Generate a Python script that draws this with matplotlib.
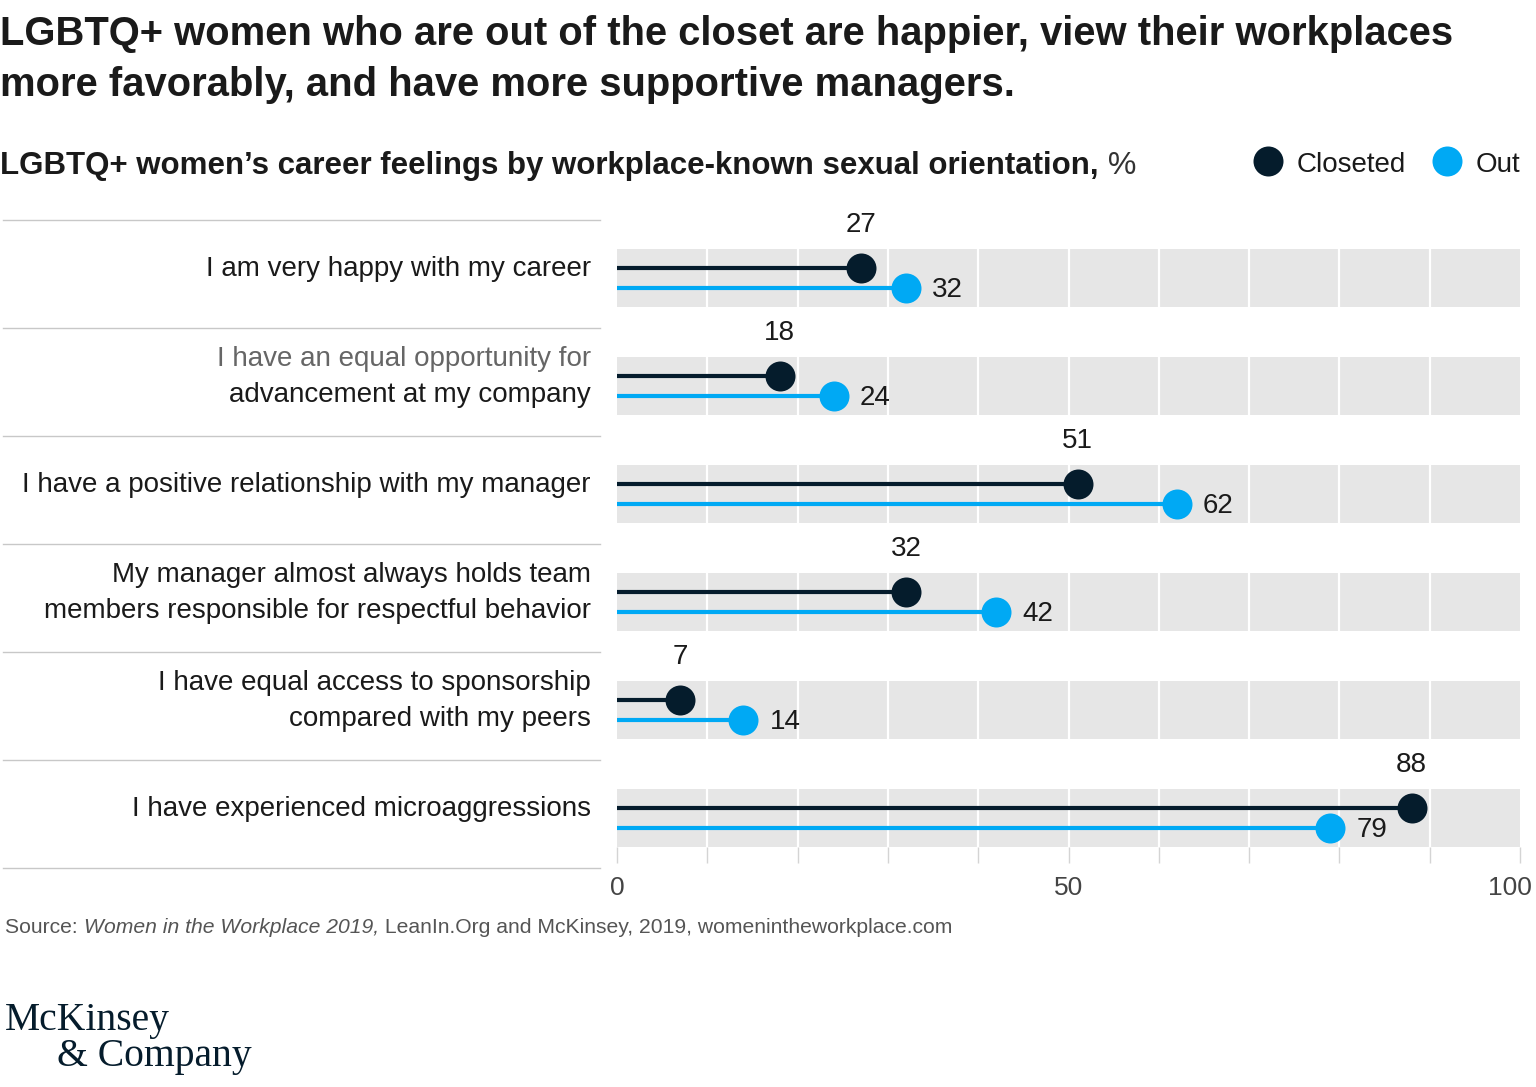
import numpy as np
import matplotlib.pyplot as plt
from matplotlib.transforms import blended_transform_factory, ScaledTranslation

plt.rcParams['font.family'] = ['Liberation Sans', 'DejaVu Sans']

# data
categories = [
    "I am very happy with my career",
    "I have an equal opportunity for\nadvancement at my company",
    "I have a positive relationship with my manager",
    "My manager almost always holds team\nmembers responsible for respectful behavior",
    "I have equal access to sponsorship\ncompared with my peers",
    "I have experienced microaggressions",
]
closeted = [27, 18, 51, 32, 7, 88]
out = [32, 24, 62, 42, 14, 79]
series_names = ["Closeted", "Out"]
x_ticks = list(range(0, 101, 10))
x_ticklabels = ["0", "", "", "", "", "50", "", "", "", "", "100"]

DARK = '#051c2c'
BLUE = '#00a9f4'
BAND = '#e6e6e6'
SEP = '#c8c8c8'
TXT = '#1a1a1a'

W, H = 1536, 1087


def fx(px):
    return px / W


def fy(py):
    return 1 - py / H


ROW = 108.0          # px per row
DY = 10 / ROW        # offset of each series line from band centre
HALF = 29 / ROW      # half band height
PT = 0.72            # px -> points at dpi 100

fig = plt.figure(figsize=(W / 100, H / 100), dpi=100)
ax = fig.add_axes([fx(617), fy(847), 903 / W, (847 - 190) / H])
ax.set_xlim(0, 100)
ax.set_ylim(len(categories) - 1 + HALF, (190 - 278) / ROW)
for s in ax.spines.values():
    s.set_visible(False)
ax.set_yticks([])
ax.set_xticks(x_ticks)
ax.set_xticklabels(x_ticklabels)
ax.tick_params(axis='x', length=16 * PT, width=1, color='#d4d4d4',
               pad=13 * PT, labelsize=19, labelcolor='#444444')
# last label sits a little left of its tick, as in the original
last = ax.get_xticklabels()[-1]
last.set_transform(last.get_transform() + ScaledTranslation(-10 / 100, 0, fig.dpi_scale_trans))

y = np.arange(len(categories))
for i in y:
    ax.axhspan(i - HALF, i + HALF, xmin=0, xmax=1, color=BAND, lw=0, zorder=0)
    ax.vlines(x_ticks[1:-1], i - HALF, i + HALF, color='white', lw=1.6, zorder=1)

ax.hlines(y - DY, 0, closeted, color=DARK, lw=3, zorder=2)
ax.hlines(y + DY, 0, out, color=BLUE, lw=3, zorder=2)
ax.plot(closeted, y - DY, 'o', ms=30 * PT, color=DARK, mec='none', zorder=3)
ax.plot(out, y + DY, 'o', ms=30 * PT, color=BLUE, mec='none', zorder=3)

for i in y:
    ax.annotate(str(closeted[i]), (closeted[i], i - DY), xytext=(0, 43 * PT),
                textcoords='offset points', ha='center', va='center',
                fontsize=20, color=TXT)
    ax.annotate(str(out[i]), (out[i], i + DY), xytext=(26 * PT, -2 * PT),
                textcoords='offset points', ha='left', va='center',
                fontsize=20, color=TXT)

# row labels and separators on the left
trans = blended_transform_factory(fig.transFigure, ax.transData)
for i in range(len(categories) + 1):
    ax.plot([fx(3), fx(600)], [i - 58 / ROW] * 2, color=SEP, lw=1,
            transform=trans, clip_on=False)

for i, label in enumerate(categories):
    lines = label.split('\n')
    n = len(lines)
    for k, line in enumerate(lines):
        col = '#666666' if (i == 1 and k == 0) else TXT
        ax.text(fx(591), i - DY + 1 / ROW + (k - (n - 1) / 2) * 37 / ROW, line,
                transform=trans, ha='right', va='center', fontsize=20,
                color=col)

# title
fig.text(fx(0), fy(45), "LGBTQ+ women who are out of the closet are happier, view their workplaces",
         fontsize=28.8, fontweight='bold', color=TXT, va='baseline')
fig.text(fx(0), fy(96), "more favorably, and have more supportive managers.",
         fontsize=28.8, fontweight='bold', color=TXT, va='baseline')

sub = fig.text(fx(0), fy(174), "LGBTQ+ women\u2019s career feelings by workplace-known sexual orientation,",
               fontsize=22.5, fontweight='bold', color=TXT, va='baseline')
ax.annotate(" %", xy=(1, 0), xycoords=sub, va='bottom', ha='left',
            fontsize=23, color='#333333', annotation_clip=False)

# legend
for px, name, c in [(1268, series_names[0], DARK), (1447, series_names[1], BLUE)]:
    fig.lines.append(plt.Line2D([fx(px)], [fy(161)], marker='o', ms=30 * PT,
                                color=c, mec='none', transform=fig.transFigure))
    fig.text(fx(px + 29), fy(172), name, fontsize=20, color=TXT, va='baseline')

# source
src = fig.text(fx(5), fy(933), "Source: ", fontsize=15.2, color='#555555', va='baseline')
src2 = ax.annotate("Women in the Workplace 2019,", xy=(1, 0), xycoords=src, va='bottom',
                   fontsize=15.2, color='#555555', style='italic', annotation_clip=False)
ax.annotate(" LeanIn.Org and McKinsey, 2019, womenintheworkplace.com", xy=(1, 0),
            xycoords=src2, va='bottom', fontsize=15.2, color='#555555',
            annotation_clip=False)

# logo
fig.text(fx(5), fy(1030), "McKinsey", family='Liberation Serif', fontsize=28.5,
         color=DARK, va='baseline')
fig.text(fx(57), fy(1066), "& Company", family='Liberation Serif', fontsize=28.5,
         color=DARK, va='baseline')

fig.savefig('out.png', dpi=100, facecolor='white')
